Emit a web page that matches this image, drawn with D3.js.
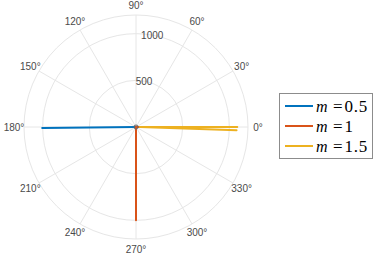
<!DOCTYPE html>
<html><head><meta charset="utf-8">
<script src="https://cdn.jsdelivr.net/npm/d3@7"></script>
<style>body{margin:0;background:#fff;}svg{display:block;}</style>
</head><body>
<svg id="c" width="374" height="254"></svg>
<script>
// ---- data ----
const seriesNames = ["0.5", "1", "1.5"];
const seriesColors = ["#0072BD", "#D95319", "#EDB120"];
const blueTheta = [180, 180.6, 180.6, 180];
const blueR = [0, 1005, 1000, 0];
const redTheta = [270, 270, 270, 0, 0];
const redR = [0, 1000, 0, 0, 60];
const yellowTheta = [0, 0, 0, 358.1, 358.1];
const yellowR = [40, 1085, 40, 1078, 40];
const rTicks = [500, 1000];
const rMax = 1200;
const thetaTicks = [0, 30, 60, 90, 120, 150, 180, 210, 240, 270, 300, 330];

const svg = d3.select("#c");
const cx = 136, cy = 127, R = 112;
const r = d3.scaleLinear().domain([0, rMax]).range([0, R]);
const rad = d => d * Math.PI / 180;
const px = (t, v) => cx + r(v) * Math.cos(rad(t));
const py = (t, v) => cy - r(v) * Math.sin(rad(t));

const grid = svg.append("g");
thetaTicks.forEach(t => {
  grid.append("line").attr("x1", cx).attr("y1", cy)
    .attr("x2", px(t, rMax)).attr("y2", py(t, rMax))
    .attr("stroke", "#e6e6e6").attr("stroke-width", 1);
});
rTicks.concat([rMax]).forEach(v => {
  grid.append("circle").attr("cx", cx).attr("cy", cy).attr("r", r(v))
    .attr("fill", "none").attr("stroke", "#e6e6e6").attr("stroke-width", 1);
});
thetaTicks.forEach(t => {
  const lr = R + 10;
  svg.append("text").attr("x", cx + lr * Math.cos(rad(t))).attr("y", cy - lr * Math.sin(rad(t)))
    .attr("text-anchor", "middle").attr("dominant-baseline", "central")
    .attr("font-family", "Liberation Sans, Arial, sans-serif").attr("font-size", 10)
    .attr("fill", "#4a4a4a").text(t + "°");
});
rTicks.forEach(v => {
  svg.append("text").attr("x", px(80, v)).attr("y", py(80, v))
    .attr("text-anchor", "middle").attr("dominant-baseline", "central")
    .attr("font-family", "Liberation Sans, Arial, sans-serif").attr("font-size", 10)
    .attr("fill", "#4a4a4a").text(v);
});

const line = d3.line().x(d => px(d[0], d[1])).y(d => py(d[0], d[1]));
const allSeries = [
  d3.zip(blueTheta, blueR),
  d3.zip(redTheta, redR),
  d3.zip(yellowTheta, yellowR)
];
allSeries.forEach((s, i) => {
  svg.append("path").attr("d", line(s)).attr("fill", "none")
    .attr("stroke", seriesColors[i]).attr("stroke-width", 2)
    .attr("stroke-linejoin", "round");
});
svg.append("circle").attr("cx", cx).attr("cy", cy).attr("r", 2)
  .attr("fill", "none").attr("stroke", "#666").attr("stroke-width", 1);

// legend
const lg = svg.append("g");
lg.append("rect").attr("x", 279.5).attr("y", 93.5).attr("width", 93).attr("height", 65)
  .attr("fill", "#fff").attr("stroke", "#8c8c8c").attr("stroke-width", 1);
seriesNames.forEach((n, i) => {
  const y = 106 + i * 20;
  lg.append("line").attr("x1", 285).attr("x2", 313).attr("y1", y).attr("y2", y)
    .attr("stroke", seriesColors[i]).attr("stroke-width", 2);
  const f = "Liberation Serif, Times New Roman, serif";
  lg.append("text").attr("x", 316).attr("y", y).attr("dominant-baseline", "central")
    .attr("font-family", f).attr("font-size", 16).attr("font-style", "italic").text("m");
  lg.append("text").attr("x", 333).attr("y", y).attr("dominant-baseline", "central")
    .attr("font-family", f).attr("font-size", 17).text("=");
  lg.append("text").attr("x", 344.5).attr("y", y).attr("dominant-baseline", "central")
    .attr("font-family", f).attr("font-size", 17).attr("letter-spacing", 0.8).text(n);
});
</script>
</body></html>
